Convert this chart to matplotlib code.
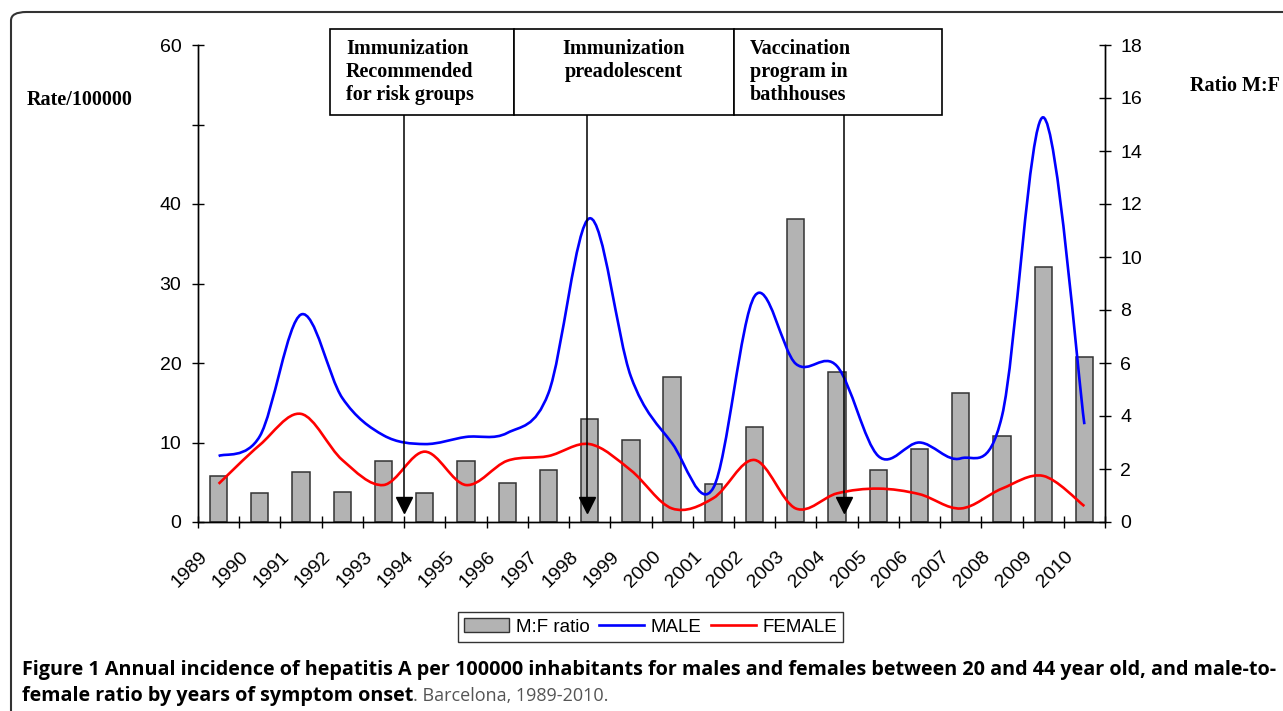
#hepatitis A incidence, Barcelona 1989-2010
import matplotlib
matplotlib.use("Agg")
import matplotlib.pyplot as plt
import numpy as np
from matplotlib.path import Path
from matplotlib.patches import PathPatch, Rectangle, FancyBboxPatch, Patch
from matplotlib.lines import Line2D
from matplotlib.transforms import ScaledTranslation, blended_transform_factory

years = [str(y) for y in range(1989, 2011)]
male = [8.3, 10.8, 26.1, 15.6, 10.9, 9.8, 10.7, 11.2, 16.2, 38.2, 18.3,
        9.9, 4.3, 28.4, 19.9, 19.6, 8.3, 10.0, 8.0, 13.3, 50.9, 12.3]
female = [4.8, 9.7, 13.6, 7.8, 4.65, 8.85, 4.65, 7.7, 8.3, 9.8, 6.5,
          1.7, 3.0, 7.8, 1.7, 3.6, 4.2, 3.5, 1.7, 4.2, 5.8, 2.0]
ratio = [1.75, 1.1, 1.88, 1.14, 2.29, 1.1, 2.29, 1.47, 1.97, 3.87, 3.08,
         5.48, 1.42, 3.6, 11.43, 5.65, 1.97, 2.75, 4.88, 3.26, 9.64, 6.21]

events = ["Immunization\nRecommended\nfor risk groups",
          "Immunization\npreadolescent",
          "Vaccination\nprogram in\nbathhouses"]
event_x = [4.5, 8.94, 15.17]

W, H = 1283, 711
serif = "Liberation Serif"
sans = "Liberation Sans"


def fx(px):
    return px / W


def fy(py):
    return 1 - py / H


def smooth_path(xs, ys):
    # excel style smoothed line (catmull-rom as bezier)
    pts = np.column_stack([xs, ys]).astype(float)
    n = len(pts)
    verts = [pts[0]]
    codes = [Path.MOVETO]
    for i in range(n - 1):
        p0 = pts[i - 1] if i > 0 else pts[i]
        p1 = pts[i]
        p2 = pts[i + 1]
        p3 = pts[i + 2] if i + 2 < n else pts[i + 1]
        verts += [p1 + (p2 - p0) / 6, p2 - (p3 - p1) / 6, p2]
        codes += [Path.CURVE4] * 3
    return Path(verts, codes)


fig = plt.figure(figsize=(W / 100, H / 100), dpi=100)
ax_bar = fig.add_axes([fx(198), fy(522), fx(1105 - 198), (522 - 45) / H])
ax = ax_bar.twinx()

x = np.arange(len(years))

# bars, right axis
ax_bar.bar(x, ratio, width=0.42, color="#b3b3b3", edgecolor="#333333",
           linewidth=1.1, zorder=2)
ax_bar.set_ylim(0, 18)
ax_bar.set_yticks(range(0, 19, 2))
ax_bar.yaxis.tick_right()
ax_bar.tick_params(axis="y", direction="inout", length=8, width=1, pad=7,
                   labelsize=14)
ax_bar.set_xlim(-0.5, len(years) - 0.5)

# lines, left axis
ax.yaxis.tick_left()
ax.set_ylim(0, 60)
ax.set_yticks(range(0, 61, 10))
ax.set_yticklabels(["0", "10", "20", "30", "40", "", "60"])
ax.tick_params(axis="y", direction="inout", length=8, width=1, pad=8,
               labelsize=14)
ax.add_patch(PathPatch(smooth_path(x, male), facecolor="none",
                       edgecolor="#0000ff", lw=1.9, zorder=3))
ax.add_patch(PathPatch(smooth_path(x, female), facecolor="none",
                       edgecolor="#ff0000", lw=1.9, zorder=3))

for a in (ax, ax_bar):
    a.spines["top"].set_visible(False)
    for s in ("left", "right", "bottom"):
        a.spines[s].set_linewidth(1.0)

# x axis: ticks at boundaries, labels at centres
ax_bar.set_xticks(np.arange(-0.5, len(years), 1.0))
ax_bar.set_xticklabels([])
ax_bar.tick_params(axis="x", direction="inout", length=9, width=1)
ax_bar.set_xticks(x, minor=True)
ax_bar.set_xticklabels(years, minor=True, rotation=45, ha="right",
                       va="top", fontsize=14)
ax_bar.tick_params(axis="x", which="minor", length=0, pad=19)
shift = ScaledTranslation(-8 / 100, 0, fig.dpi_scale_trans)
for lab in ax_bar.get_xticklabels(minor=True):
    lab.set_transform(lab.get_transform() + shift)
ax.set_xlim(-0.5, len(years) - 0.5)

for lab in ax.get_yticklabels() + ax_bar.get_yticklabels() + ax_bar.get_xticklabels(minor=True):
    lab.set_fontfamily(sans)

# arrows from event boxes
tr = blended_transform_factory(ax.transData, ax.transAxes)
for ex in event_x:
    ax.plot([ex, ex], [(522 - 115) / 477, 0.03], color="black", lw=1.1,
            transform=tr, clip_on=False, zorder=5)
    ax.plot([ex], [0.036], marker="v", color="black", markersize=12,
            transform=tr, clip_on=False, zorder=5)

# event boxes
box_edges = [330, 514, 734, 942]
for i, txt in enumerate(events):
    x0, x1 = box_edges[i], box_edges[i + 1]
    fig.add_artist(Rectangle((fx(x0), fy(115)), fx(x1 - x0), (115 - 29) / H,
                             transform=fig.transFigure, facecolor="white",
                             edgecolor="black", lw=1.2))
    if i == 1:
        fig.text(fx((x0 + x1) / 2), fy(39), txt, ha="center", va="top",
                 fontsize=14.5, fontweight="bold", family=serif,
                 multialignment="center", linespacing=1.2)
    else:
        fig.text(fx(x0 + 16), fy(39), txt, ha="left", va="top",
                 fontsize=14.5, fontweight="bold", family=serif,
                 linespacing=1.2)

fig.text(fx(27), fy(100), "Rate/100000", ha="left", va="center",
         fontsize=14.5, fontweight="bold", family=serif)
fig.text(fx(1190), fy(86), "Ratio M:F", ha="left", va="center",
         fontsize=14.5, fontweight="bold", family=serif)

# legend
handles = [Patch(facecolor="#b3b3b3", edgecolor="#333333", lw=1.0),
           Line2D([], [], color="#0000ff", lw=1.9),
           Line2D([], [], color="#ff0000", lw=1.9)]
leg = fig.legend(handles, ["M:F ratio", "MALE", "FEMALE"], loc="center",
                 bbox_to_anchor=(fx(650.5), fy(627)), ncol=3, frameon=True,
                 fancybox=False, edgecolor="black", handlelength=2.4,
                 handletextpad=0.35, columnspacing=0.5, borderpad=0.35,
                 prop={"family": sans, "size": 13.5})
leg.get_frame().set_linewidth(1.0)

# outer frame
fig.add_artist(FancyBboxPatch((fx(11), fy(H + 40)), fx(W + 40), (H + 40 - 12) / H,
                              boxstyle="round,pad=0,rounding_size=0.012",
                              transform=fig.transFigure, facecolor="none",
                              edgecolor="#333333", lw=1.5))

# caption
cap_font = "Open Sans"
fig.text(fx(22), fy(675), "Figure 1 Annual incidence of hepatitis A per 100000 inhabitants "
         "for males and females between 20 and 44 year old, and male-to-",
         ha="left", va="baseline", fontsize=14.2, fontweight="bold", family=cap_font)
t1 = fig.text(fx(22), fy(701), "female ratio by years of symptom onset",
              ha="left", va="baseline", fontsize=14.2, fontweight="bold", family=cap_font)
fig.canvas.draw()
bb = t1.get_window_extent(fig.canvas.get_renderer())
fig.text(bb.x1 / fig.bbox.width, fy(701), ". Barcelona, 1989-2010.", ha="left",
         va="baseline", fontsize=13, family=cap_font, color="#555555")

fig.savefig("out.png", dpi=100)
